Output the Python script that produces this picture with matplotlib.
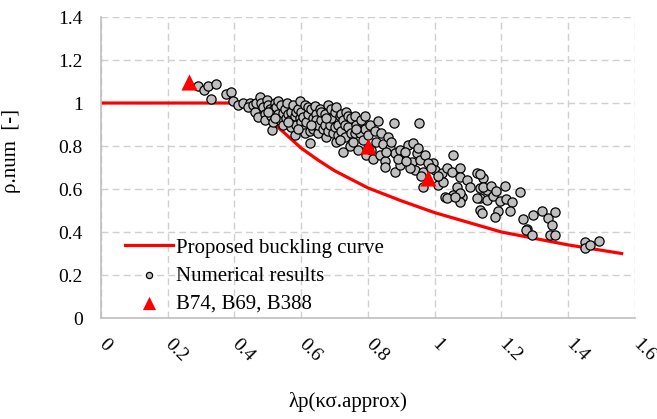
import numpy as np
import matplotlib
matplotlib.use("Agg")
import matplotlib.pyplot as plt
from matplotlib.ticker import FuncFormatter, MultipleLocator

plt.rcParams['font.family'] = ['Liberation Serif', 'DejaVu Serif']

# proposed buckling curve (read point by point)
lam_curve = [0.0, 0.40, 0.45, 0.50, 0.55, 0.60, 0.65, 0.70, 0.80, 0.90, 1.00, 1.10, 1.20, 1.30, 1.40, 1.50, 1.56]
rho_curve = [1.0, 1.0, 0.98, 0.93, 0.86, 0.79, 0.735, 0.685, 0.605, 0.545, 0.49, 0.445, 0.40, 0.37, 0.34, 0.315, 0.30]

# numerical results
lam_num = [
    0.29, 0.31, 0.32, 0.33, 0.345, 0.375, 0.39, 0.395, 0.41, 0.425, 0.445, 0.44,
    0.455, 0.46, 0.465, 0.47, 0.476, 0.48, 0.486, 0.49, 0.49, 0.496, 0.50, 0.505,
    0.51, 0.512, 0.515, 0.516, 0.52, 0.525, 0.53, 0.53, 0.535, 0.54, 0.545, 0.546,
    0.55, 0.555, 0.556, 0.56,
    0.566, 0.57, 0.57, 0.575, 0.58, 0.581, 0.585, 0.585, 0.59, 0.595, 0.596, 0.60,
    0.60, 0.605, 0.606, 0.61, 0.61, 0.615, 0.62, 0.62, 0.625, 0.627, 0.63, 0.635,
    0.635, 0.64, 0.641, 0.645, 0.645, 0.65, 0.651, 0.655,
    0.66, 0.66, 0.665, 0.67, 0.67, 0.675, 0.68, 0.68, 0.685, 0.69, 0.69, 0.695,
    0.70, 0.70, 0.705, 0.705, 0.71, 0.71, 0.715, 0.72, 0.72, 0.725, 0.725, 0.73,
    0.73, 0.735, 0.74, 0.74, 0.745, 0.75, 0.75,
    0.755, 0.76, 0.76, 0.765, 0.77, 0.775, 0.78, 0.785, 0.79, 0.79, 0.795, 0.80,
    0.805, 0.81, 0.815, 0.82, 0.825, 0.83, 0.835, 0.84, 0.845, 0.85, 0.851,
    0.861, 0.866, 0.878, 0.881, 0.881, 0.896, 0.896, 0.906, 0.921, 0.931, 0.936,
    0.941, 0.946, 0.954, 0.956, 0.966, 0.996, 1.001, 1.011, 1.021, 1.026, 1.036,
    1.051, 1.056, 1.066, 1.076, 1.076, 1.096, 1.106, 1.126, 1.136, 1.146, 1.156,
    1.031, 1.056, 1.081, 1.136,
    0.87, 0.89, 0.91, 0.925, 0.95, 0.97, 0.98, 0.99, 0.96,
    0.966, 1.036, 1.076, 1.076, 1.126, 1.136, 1.141, 1.156, 1.061,
    1.135, 1.145, 1.17, 1.175, 1.185, 1.195, 1.21, 1.215, 1.23, 1.225, 1.19, 1.18,
    1.255, 1.265, 1.295, 1.32, 1.34, 1.36, 1.275, 1.35,
    1.273, 1.29, 1.345, 1.36, 1.45, 1.45, 1.465, 1.493,
    0.50, 0.52, 0.56, 0.59, 0.63, 0.675, 0.715, 0.765, 0.80, 0.855, 0.915, 1.01,
]
rho_num = [
    1.08, 1.06, 1.08, 1.02, 1.09, 1.04, 1.05, 1.01, 0.99, 1.00, 1.00, 0.98,
    0.99, 0.96, 1.00, 0.935, 1.03, 1.00, 0.98, 0.95, 0.92, 1.014, 0.99, 0.97,
    0.94, 0.874, 0.91, 0.967, 1.00, 0.98, 0.95, 1.01, 0.92, 0.99, 0.90, 0.952,
    0.97, 0.93, 0.998, 0.95,
    0.921, 0.96, 0.89, 0.99, 0.94, 0.851, 0.90, 0.96, 0.97, 1.008, 0.93, 0.96,
    0.91, 0.88, 0.937, 0.99, 0.86, 0.91, 0.95, 0.98, 0.87, 0.812, 0.97, 0.93,
    0.88, 0.90, 0.984, 0.95, 0.92, 0.86, 0.898, 0.97,
    0.92, 0.96, 0.88, 0.95, 0.90, 0.84, 0.99, 0.87, 0.90, 0.93, 0.97, 0.86,
    0.96, 0.89, 0.98, 0.82, 0.90, 0.85, 0.94, 0.87, 0.95, 0.772, 0.92, 0.84,
    0.90, 0.96, 0.89, 0.94, 0.80, 0.93, 0.86,
    0.82, 0.94, 0.86, 0.90, 0.78, 0.86, 0.92, 0.83, 0.94, 0.88, 0.76, 0.85,
    0.90, 0.78, 0.74, 0.87, 0.82, 0.915, 0.76, 0.86, 0.81, 0.73, 0.704,
    0.843, 0.789, 0.908, 0.766, 0.681, 0.781, 0.712, 0.743, 0.805, 0.727, 0.812,
    0.688, 0.766, 0.908, 0.735, 0.681, 0.719, 0.688, 0.619, 0.673, 0.634, 0.696,
    0.681, 0.758, 0.611, 0.696, 0.657, 0.642, 0.611, 0.673, 0.603, 0.65, 0.595,
    0.564, 0.572, 0.564, 0.557,
    0.82, 0.74, 0.77, 0.70, 0.79, 0.76, 0.72, 0.70, 0.66,
    0.611, 0.557, 0.58, 0.541, 0.557, 0.502, 0.487, 0.549, 0.564,
    0.669, 0.608, 0.615, 0.569, 0.592, 0.546, 0.615, 0.554, 0.538, 0.50, 0.50, 0.469,
    0.588, 0.462, 0.477, 0.50, 0.466, 0.492, 0.415, 0.431,
    0.409, 0.386, 0.386, 0.386, 0.355, 0.324, 0.339, 0.358,
    0.96, 0.93, 0.91, 0.88, 0.90, 0.93, 0.83, 0.88, 0.79, 0.77, 0.73, 0.66,
]

# test specimens B74, B69, B388
lam_test = [0.265, 0.80, 0.98]
rho_test = [1.10, 0.80, 0.65]

fig = plt.figure(figsize=(6.57, 4.19), dpi=100)
ax = fig.add_axes([0.1537, 0.241, 0.8128, 0.7184])

ax.plot(lam_curve, rho_curve, color='#ff0000', lw=2.3, zorder=2,
        label='Proposed buckling curve')
ax.scatter(lam_num, rho_num, s=44, c='#bfbfbf', edgecolors='black',
           linewidths=0.9, zorder=3, label='Numerical results')
ax.scatter(lam_test, rho_test, s=135, marker='^', c='#ff0000',
           linewidths=0, zorder=4, label='B74, B69, B388')

ax.set_xlim(0, 1.6)
ax.set_ylim(0, 1.4)
ax.xaxis.set_major_locator(MultipleLocator(0.2))
ax.yaxis.set_major_locator(MultipleLocator(0.2))
fmt = FuncFormatter(lambda v, p: f"{round(v, 1):g}")
ax.xaxis.set_major_formatter(fmt)
ax.yaxis.set_major_formatter(fmt)

ax.grid(True, color='#d0d0d0', linestyle=(0, (5, 3)), linewidth=1.0, zorder=0)
ax.set_axisbelow(True)
for side in ['top', 'right']:
    ax.spines[side].set_visible(False)
for side in ['left', 'bottom']:
    ax.spines[side].set_color('#bfbfbf')
    ax.spines[side].set_linewidth(1.2)

ax.tick_params(axis='both', length=0, labelsize=14)
ax.tick_params(axis='y', pad=13)
ax.tick_params(axis='x', pad=17)
for lbl in ax.get_xticklabels():
    lbl.set_rotation(-45)
    lbl.set_ha('left')
    lbl.set_va('center')
    lbl.set_rotation_mode('anchor')

ax.set_ylabel('ρ.num  [-]', fontsize=15)
ax.yaxis.set_label_coords(-0.15, 0.555)
ax.set_xlabel('λp(κσ.approx)', fontsize=15)
ax.xaxis.set_label_coords(0.4625, -0.245)

leg = ax.legend(loc='lower left', bbox_to_anchor=(0.045, 0.015), frameon=False,
                fontsize=15, handlelength=2.3, handletextpad=0.15,
                labelspacing=0.4, borderpad=0, borderaxespad=0)
leg.legend_handles[1].set_sizes([20])
leg.legend_handles[2].set_sizes([90])

fig.savefig('out.png', dpi=100)
